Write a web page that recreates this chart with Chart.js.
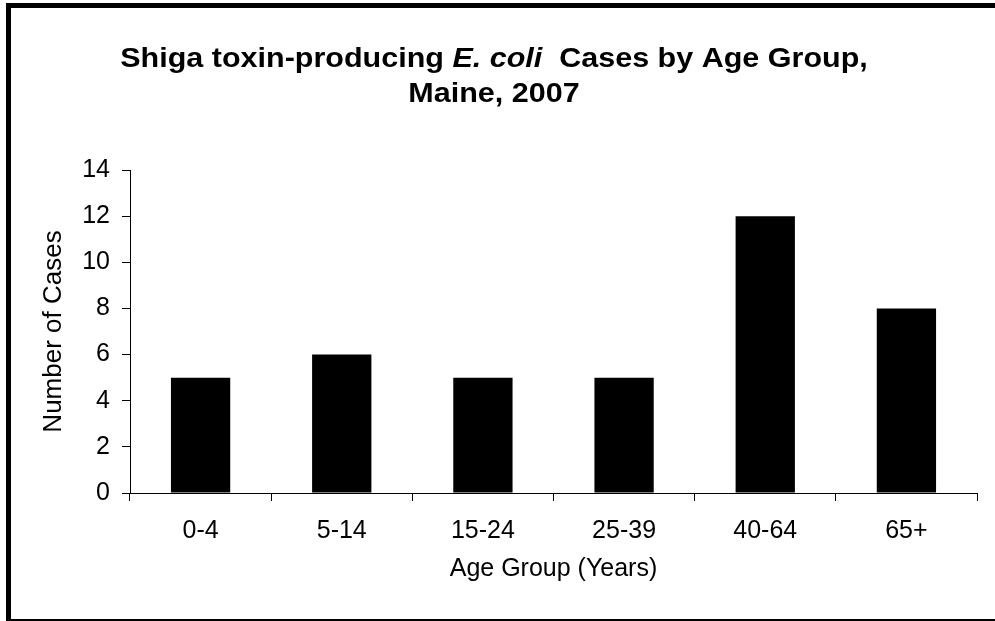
<!DOCTYPE html>
<html>
<head>
<meta charset="utf-8">
<script src="https://cdn.jsdelivr.net/npm/chart.js@4/dist/chart.umd.min.js"></script>
<style>
  body { margin: 0; background: #fff; }
  #wrap { position: relative; width: 995px; height: 621px; overflow: hidden; }
  #frame {
    position: absolute; left: 6px; top: 3px; width: 1000px; height: 611px;
    border-left: 5px solid #000; border-top: 5px solid #000; border-bottom: 2px solid #000;
    pointer-events: none;
  }
</style>
</head>
<body>
<div id="wrap">
  <canvas id="myChart" width="995" height="621"></canvas>
  <div id="frame"></div>
</div>
<script>
const ageGroups = ["0-4", "5-14", "15-24", "25-39", "40-64", "65+"];
const cases = [5, 6, 5, 5, 12, 8];
const yTicks = [0, 2, 4, 6, 8, 10, 12, 14];

const FONT = "Arial, 'Liberation Sans', sans-serif";

// title with italic part, drawn on the canvas (text is a bit wide in the original)
const titleLines = [
  [["Shiga toxin-producing ", false], ["E. coli", true], ["  Cases by Age Group,", false]],
  [["Maine, 2007", false]]
];

const richTitle = {
  id: "richTitle",
  afterDraw(chart) {
    const ctx = chart.ctx;
    const size = 27;
    const stretch = 1.13;
    const ys = [67, 102];
    ctx.save();
    ctx.fillStyle = "#000";
    ctx.textBaseline = "alphabetic";
    ctx.textAlign = "left";
    titleLines.forEach((line, i) => {
      let total = 0;
      line.forEach(([t, it]) => {
        ctx.font = (it ? "italic " : "") + "bold " + size + "px " + FONT;
        total += ctx.measureText(t).width;
      });
      ctx.save();
      ctx.translate(494, ys[i]);
      ctx.scale(stretch, 1);
      let x = -total / 2;
      line.forEach(([t, it]) => {
        ctx.font = (it ? "italic " : "") + "bold " + size + "px " + FONT;
        ctx.fillText(t, x, 0);
        x += ctx.measureText(t).width;
      });
      ctx.restore();
    });
    ctx.restore();
  }
};

new Chart(document.getElementById("myChart"), {
  type: "bar",
  data: {
    labels: ageGroups,
    datasets: [{
      label: "Cases",
      data: cases,
      backgroundColor: "#000",
      borderWidth: 0,
      barPercentage: 0.42,
      categoryPercentage: 1.0
    }]
  },
  options: {
    responsive: false,
    animation: false,
    layout: { padding: { top: 170, right: 18, left: 0, bottom: 0 } },
    plugins: {
      legend: { display: false },
      title: { display: false },
      tooltip: { enabled: false }
    },
    scales: {
      x: {
        offset: true,
        grid: { offset: true, drawOnChartArea: false, drawTicks: true, tickLength: 8, color: "#000", lineWidth: 1 },
        border: { display: true, color: "#000", width: 1 },
        ticks: { color: "#000", font: { family: FONT, size: 25 }, padding: 15, maxRotation: 0 },
        title: { display: true, text: "Age Group (Years)", color: "#000", font: { family: FONT, size: 25 }, padding: { top: 0, bottom: 37 } },
        afterFit(scale) { scale.height = 128; }
      },
      y: {
        min: 0,
        max: 14,
        afterBuildTicks(scale) { scale.ticks = yTicks.map(v => ({ value: v })); },
        grid: { drawOnChartArea: false, drawTicks: true, tickLength: 8, color: "#000", lineWidth: 1 },
        border: { display: true, color: "#000", width: 1 },
        ticks: { color: "#000", font: { family: FONT, size: 25 }, padding: 12 },
        title: { display: true, text: "Number of Cases", color: "#000", font: { family: FONT, size: 26 }, padding: { top: 38, bottom: 0 } },
        afterFit(scale) { scale.width = 130; }
      }
    }
  },
  plugins: [richTitle]
});
</script>
</body>
</html>
